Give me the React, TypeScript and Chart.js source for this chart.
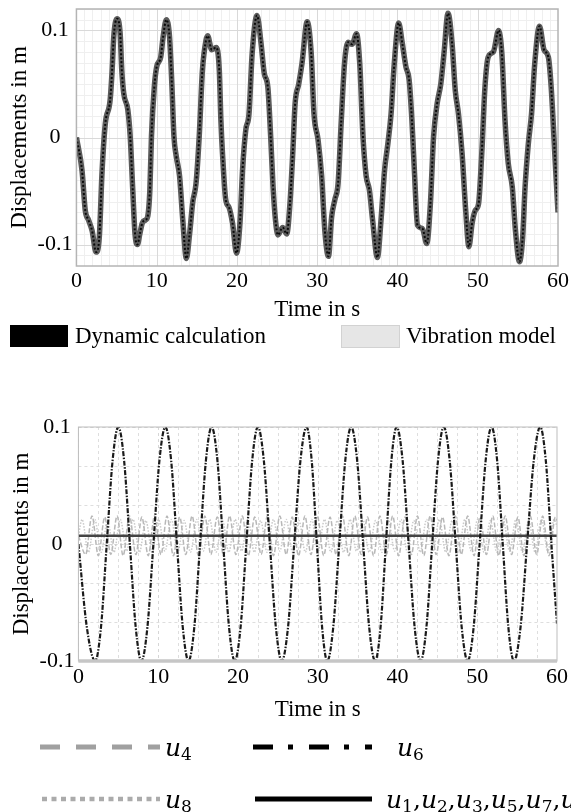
import React, { useEffect, useRef } from 'react';
import { Chart, registerables } from 'chart.js';

Chart.register(...registerables);

const SERIF = "'Liberation Serif', 'Times New Roman', serif";
const MATH = "'DejaVu Serif', 'Liberation Serif', serif";

// ---- ticks ----
const xTickValues = [0, 10, 20, 30, 40, 50, 60];
const yTickValues = [-0.1, 0, 0.1];

// ---- top chart: [time s, displacement m] ----
const dynamicCalculation: [number, number][] = [
  [0, 0], [0.7, -0.031], [1.1, -0.068], [1.5, -0.077], [1.95, -0.087], [2.45, -0.107], [2.85, -0.093],
  [3.2, -0.031], [3.6, 0.013], [4.2, 0.035], [4.45, 0.063], [4.65, 0.094], [5.05, 0.111], [5.45, 0.097],
  [5.65, 0.063], [5.9, 0.041], [6.4, 0.026], [6.7, 0.001], [7.0, -0.046], [7.3, -0.09], [7.6, -0.1],
  [7.9, -0.09], [8.2, -0.08], [8.6, -0.077], [8.9, -0.073], [9.15, -0.049], [9.35, 0.001], [9.7, 0.047],
  [10.0, 0.066], [10.5, 0.075], [10.8, 0.094], [11.2, 0.11], [11.6, 0.094], [11.9, 0.048], [12.15, 0.001],
  [12.45, -0.018], [12.85, -0.036], [13.25, -0.077], [13.7, -0.113], [14.1, -0.09], [14.5, -0.06],
  [14.9, -0.043], [15.3, 0.001], [15.7, 0.063], [16.15, 0.091], [16.35, 0.095], [16.85, 0.082],
  [17.4, 0.084], [17.8, 0.063], [18.0, 0.016], [18.2, -0.015], [18.6, -0.058], [19.0, -0.065],
  [19.45, -0.08], [19.95, -0.108], [20.4, -0.077], [20.7, -0.03], [21.1, 0.007], [21.5, 0.022],
  [21.9, 0.079], [22.5, 0.114], [23.0, 0.088], [23.4, 0.06], [23.85, 0.047], [24.2, 0.001],
  [24.5, -0.046], [24.8, -0.077], [25.1, -0.091], [25.7, -0.084], [26.2, -0.09], [26.6, -0.062],
  [26.95, -0.015], [27.25, 0.032], [27.7, 0.05], [28.1, 0.069], [28.75, 0.108], [29.25, 0.079],
  [29.6, 0.022], [30.1, -0.002], [30.55, -0.036], [30.95, -0.087], [31.4, -0.111], [31.8, -0.074],
  [32.2, -0.058], [32.6, -0.043], [33.0, 0.016], [33.4, 0.069], [33.85, 0.089], [34.35, 0.087],
  [34.9, 0.097], [35.3, 0.069], [35.7, 0.001], [36.1, -0.036], [36.5, -0.049], [36.9, -0.077],
  [37.5, -0.112], [37.95, -0.077], [38.4, -0.03], [38.8, -0.006], [39.2, 0.022], [39.6, 0.069],
  [40.15, 0.107], [40.6, 0.088], [41.05, 0.066], [41.45, 0.054], [41.8, 0.016], [42.1, -0.03],
  [42.5, -0.082], [43.1, -0.085], [43.65, -0.099], [44.1, -0.062], [44.5, 0.001], [44.95, 0.032],
  [45.4, 0.05], [45.8, 0.079], [46.3, 0.116], [46.8, 0.088], [47.2, 0.044], [47.6, 0.022],
  [48.05, -0.015], [48.5, -0.068], [48.9, -0.102], [49.3, -0.08], [49.7, -0.068], [50.1, -0.062],
  [50.5, -0.015], [50.9, 0.047], [51.3, 0.075], [51.95, 0.08], [52.6, 0.1], [53.0, 0.079],
  [53.4, 0.016], [53.8, -0.024], [54.3, -0.046], [54.7, -0.087], [55.2, -0.116], [55.6, -0.093],
  [55.9, -0.046], [56.3, -0.006], [56.7, 0.022], [57.1, 0.069], [57.7, 0.104], [58.25, 0.082],
  [58.8, 0.075], [59.15, 0.047], [59.6, -0.015], [60, -0.07],
];

const vibrationModel: [number, number][] = [
  [0, 0], [0.7, -0.031], [1.1, -0.068], [1.5, -0.077], [1.95, -0.087], [2.45, -0.107], [2.85, -0.093],
  [3.2, -0.031], [3.6, 0.013], [4.2, 0.035], [4.45, 0.063], [4.65, 0.094], [5.05, 0.111], [5.45, 0.097],
  [5.65, 0.063], [5.9, 0.041], [6.4, 0.026], [6.7, 0.001], [7.0, -0.046], [7.3, -0.09], [7.6, -0.1],
  [7.9, -0.09], [8.2, -0.08], [8.6, -0.077], [8.9, -0.073], [9.15, -0.049], [9.35, 0.001], [9.7, 0.047],
  [10.0, 0.066], [10.5, 0.075], [10.8, 0.094], [11.2, 0.11], [11.6, 0.094], [11.9, 0.048], [12.15, 0.001],
  [12.45, -0.018], [12.85, -0.036], [13.25, -0.077], [13.7, -0.113], [14.1, -0.09], [14.5, -0.06],
  [14.9, -0.043], [15.3, 0.001], [15.7, 0.063], [16.15, 0.091], [16.35, 0.095], [16.85, 0.082],
  [17.4, 0.084], [17.8, 0.063], [18.0, 0.016], [18.2, -0.015], [18.6, -0.058], [19.0, -0.065],
  [19.45, -0.08], [19.95, -0.108], [20.4, -0.077], [20.7, -0.03], [21.1, 0.007], [21.5, 0.022],
  [21.9, 0.079], [22.5, 0.114], [23.0, 0.088], [23.4, 0.06], [23.85, 0.047], [24.2, 0.001],
  [24.5, -0.046], [24.8, -0.077], [25.1, -0.091], [25.7, -0.084], [26.2, -0.09], [26.6, -0.062],
  [26.95, -0.015], [27.25, 0.032], [27.7, 0.05], [28.1, 0.069], [28.75, 0.108], [29.25, 0.079],
  [29.6, 0.022], [30.1, -0.002], [30.55, -0.036], [30.95, -0.087], [31.4, -0.111], [31.8, -0.074],
  [32.2, -0.058], [32.6, -0.043], [33.0, 0.016], [33.4, 0.069], [33.85, 0.089], [34.35, 0.087],
  [34.9, 0.097], [35.3, 0.069], [35.7, 0.001], [36.1, -0.036], [36.5, -0.049], [36.9, -0.077],
  [37.5, -0.112], [37.95, -0.077], [38.4, -0.03], [38.8, -0.006], [39.2, 0.022], [39.6, 0.069],
  [40.15, 0.107], [40.6, 0.088], [41.05, 0.066], [41.45, 0.054], [41.8, 0.016], [42.1, -0.03],
  [42.5, -0.082], [43.1, -0.085], [43.65, -0.099], [44.1, -0.062], [44.5, 0.001], [44.95, 0.032],
  [45.4, 0.05], [45.8, 0.079], [46.3, 0.116], [46.8, 0.088], [47.2, 0.044], [47.6, 0.022],
  [48.05, -0.015], [48.5, -0.068], [48.9, -0.102], [49.3, -0.08], [49.7, -0.068], [50.1, -0.062],
  [50.5, -0.015], [50.9, 0.047], [51.3, 0.075], [51.95, 0.08], [52.6, 0.1], [53.0, 0.079],
  [53.4, 0.016], [53.8, -0.024], [54.3, -0.046], [54.7, -0.087], [55.2, -0.116], [55.6, -0.093],
  [55.9, -0.046], [56.3, -0.006], [56.7, 0.022], [57.1, 0.069], [57.7, 0.104], [58.25, 0.082],
  [58.8, 0.075], [59.15, 0.047], [59.6, -0.015], [60, -0.07],
];

// ---- bottom chart: modal displacements ----
const u6: [number, number][] = [
  [0, 0], [1.05, -0.071], [2.1, -0.1], [2.83, -0.071], [3.55, 0], [4.28, 0.071], [5.0, 0.1],
  [5.73, 0.071], [6.45, 0], [7.18, -0.071], [7.9, -0.1], [8.65, -0.071], [9.4, 0], [10.15, 0.071],
  [10.9, 0.1], [11.63, 0.071], [12.35, 0], [13.08, -0.071], [13.8, -0.1], [14.53, -0.071], [15.25, 0],
  [15.98, 0.071], [16.7, 0.1], [17.43, 0.071], [18.15, 0], [18.88, -0.071], [19.6, -0.1], [20.33, -0.071],
  [21.05, 0], [21.78, 0.071], [22.5, 0.1], [23.25, 0.071], [24.0, 0], [24.75, -0.071], [25.5, -0.1],
  [26.28, -0.071], [27.05, 0], [27.83, 0.071], [28.6, 0.1], [29.25, 0.071], [29.9, 0], [30.55, -0.071],
  [31.2, -0.1], [31.95, -0.071], [32.7, 0], [33.45, 0.071], [34.2, 0.1], [34.95, 0.071], [35.7, 0],
  [36.45, -0.071], [37.2, -0.1], [37.88, -0.071], [38.55, 0], [39.23, 0.071], [39.9, 0.1], [40.65, 0.071],
  [41.4, 0], [42.15, -0.071], [42.9, -0.1], [43.63, -0.071], [44.35, 0], [45.08, 0.071], [45.8, 0.1],
  [46.55, 0.071], [47.3, 0], [48.05, -0.071], [48.8, -0.1], [49.55, -0.071], [50.3, 0], [51.05, 0.071],
  [51.8, 0.1], [52.5, 0.071], [53.2, 0], [53.9, -0.071], [54.6, -0.1], [55.43, -0.071], [56.25, 0],
  [57.08, 0.071], [57.9, 0.1], [58.6, 0.071], [59.3, 0], [60, -0.068],
];

const u4: [number, number][] = [
  [0, 0.007], [0.9, -0.009], [1.7, 0.024], [2.5, -0.01], [3.3, 0.023], [4.05, -0.009], [4.85, 0.024],
  [5.6, -0.01], [6.4, 0.024], [7.2, -0.009], [7.95, 0.023], [8.75, -0.01], [9.55, 0.024], [10.35, -0.009],
  [11.1, 0.024], [11.9, -0.01], [12.7, 0.023], [13.45, -0.009], [14.25, 0.024], [15.05, -0.01],
  [15.85, 0.024], [16.6, -0.009], [17.4, 0.023], [18.2, -0.01], [18.95, 0.024], [19.75, -0.009],
  [20.55, 0.024], [21.3, -0.01], [22.1, 0.023], [22.9, -0.009], [23.7, 0.024], [24.45, -0.01],
  [25.25, 0.024], [26.05, -0.009], [26.8, 0.023], [27.6, -0.01], [28.4, 0.024], [29.15, -0.009],
  [29.95, 0.024], [30.75, -0.01], [31.55, 0.023], [32.3, -0.009], [33.1, 0.024], [33.9, -0.01],
  [34.65, 0.024], [35.45, -0.009], [36.25, 0.023], [37.0, -0.01], [37.8, 0.024], [38.6, -0.009],
  [39.4, 0.024], [40.15, -0.01], [40.95, 0.023], [41.75, -0.009], [42.5, 0.024], [43.3, -0.01],
  [44.1, 0.024], [44.85, -0.009], [45.65, 0.023], [46.45, -0.01], [47.25, 0.024], [48.0, -0.009],
  [48.8, 0.024], [49.6, -0.01], [50.35, 0.023], [51.15, -0.009], [51.95, 0.024], [52.7, -0.01],
  [53.5, 0.024], [54.3, -0.009], [55.1, 0.023], [55.85, -0.01], [56.65, 0.024], [57.45, -0.009],
  [58.2, 0.024], [59.0, -0.01], [59.8, 0.023], [60, 0.02],
];

const u8: [number, number][] = [
  [0, 0.007], [0.45, 0.021], [1.25, -0.007], [2.05, 0.021], [2.85, -0.007], [3.65, 0.02], [4.45, -0.007],
  [5.25, 0.021], [6.05, -0.006], [6.85, 0.021], [7.65, -0.007], [8.45, 0.02], [9.25, -0.007], [10.05, 0.021],
  [10.85, -0.006], [11.65, 0.021], [12.45, -0.007], [13.25, 0.02], [14.05, -0.007], [14.85, 0.021],
  [15.65, -0.006], [16.45, 0.021], [17.25, -0.007], [18.05, 0.02], [18.85, -0.007], [19.65, 0.021],
  [20.45, -0.006], [21.25, 0.021], [22.05, -0.007], [22.85, 0.02], [23.65, -0.007], [24.45, 0.021],
  [25.25, -0.006], [26.05, 0.021], [26.85, -0.007], [27.65, 0.02], [28.45, -0.007], [29.25, 0.021],
  [30.05, -0.006], [30.85, 0.021], [31.65, -0.007], [32.45, 0.02], [33.25, -0.007], [34.05, 0.021],
  [34.85, -0.006], [35.65, 0.021], [36.45, -0.007], [37.25, 0.02], [38.05, -0.007], [38.85, 0.021],
  [39.65, -0.006], [40.45, 0.021], [41.25, -0.007], [42.05, 0.02], [42.85, -0.007], [43.65, 0.021],
  [44.45, -0.006], [45.25, 0.021], [46.05, -0.007], [46.85, 0.02], [47.65, -0.007], [48.45, 0.021],
  [49.25, -0.006], [50.05, 0.021], [50.85, -0.007], [51.65, 0.02], [52.45, -0.007], [53.25, 0.021],
  [54.05, -0.006], [54.85, 0.021], [55.65, -0.007], [56.45, 0.02], [57.25, -0.007], [58.05, 0.021],
  [58.85, -0.006], [59.65, 0.021], [60, 0.015],
];

const uOthers: [number, number][] = [[0, 0.007], [20, 0.007], [40, 0.007], [60, 0.007]];

const toXY = (pts: [number, number][]) => pts.map(([x, y]) => ({ x, y }));

type GridCfg = {
  xStep: number; yStep: number; minorColor: string; majorColor: string; dash: number[];
  frameColor: string; frameWidth: number; bottomColor?: string; bottomWidth?: number;
};

function gridPlugin(cfg: GridCfg) {
  return {
    id: 'paperGrid',
    beforeDatasetsDraw(chart: any) {
      const { ctx, chartArea: a, scales } = chart;
      const xs = scales.x;
      const ys = scales.y;
      ctx.save();
      ctx.beginPath();
      ctx.rect(a.left, a.top, a.right - a.left, a.bottom - a.top);
      ctx.clip();
      ctx.lineWidth = 1;
      ctx.setLineDash(cfg.dash);
      ctx.strokeStyle = cfg.minorColor;
      ctx.beginPath();
      for (let v = xs.min; v <= xs.max + 1e-9; v += cfg.xStep) {
        const p = Math.round(xs.getPixelForValue(v)) + 0.5;
        ctx.moveTo(p, a.top);
        ctx.lineTo(p, a.bottom);
      }
      for (let v = ys.min; v <= ys.max + 1e-9; v += cfg.yStep) {
        const p = Math.round(ys.getPixelForValue(v)) + 0.5;
        ctx.moveTo(a.left, p);
        ctx.lineTo(a.right, p);
      }
      ctx.stroke();
      ctx.strokeStyle = cfg.majorColor;
      ctx.beginPath();
      xs.ticks.forEach((t: any) => {
        const p = Math.round(xs.getPixelForValue(t.value)) + 0.5;
        ctx.moveTo(p, a.top);
        ctx.lineTo(p, a.bottom);
      });
      ys.ticks.forEach((t: any) => {
        const p = Math.round(ys.getPixelForValue(t.value)) + 0.5;
        ctx.moveTo(a.left, p);
        ctx.lineTo(a.right, p);
      });
      ctx.stroke();
      ctx.restore();
    },
    afterDatasetsDraw(chart: any) {
      const { ctx, chartArea: a } = chart;
      ctx.save();
      ctx.strokeStyle = cfg.frameColor;
      ctx.lineWidth = cfg.frameWidth;
      ctx.strokeRect(a.left, a.top, a.right - a.left, a.bottom - a.top);
      if (cfg.bottomWidth) {
        ctx.strokeStyle = cfg.bottomColor;
        ctx.lineWidth = cfg.bottomWidth;
        ctx.beginPath();
        ctx.moveTo(a.left, a.bottom);
        ctx.lineTo(a.right, a.bottom);
        ctx.stroke();
      }
      ctx.restore();
    },
  };
}

function axes(yMin: number, yMax: number, xPad: number, xTitlePad: number) {
  return {
    x: {
      type: 'linear',
      min: 0,
      max: 60,
      afterBuildTicks: (s: any) => { s.ticks = xTickValues.map((v) => ({ value: v })); },
      ticks: {
        autoSkip: false, maxRotation: 0, padding: xPad, color: '#000',
        font: { family: SERIF, size: 22 },
        callback: (v: any) => String(v),
      },
      grid: { display: false, drawTicks: false },
      border: { display: false },
      title: {
        display: true, text: 'Time in s', color: '#000',
        font: { family: SERIF, size: 23 }, padding: { top: xTitlePad, bottom: 0 },
      },
    },
    y: {
      type: 'linear',
      min: yMin,
      max: yMax,
      afterBuildTicks: (s: any) => { s.ticks = yTickValues.map((v) => ({ value: v })); },
      ticks: {
        padding: 4, color: '#000', crossAlign: 'center',
        font: { family: SERIF, size: 22, lineHeight: 0.4 },
        callback: (v: any) => String(Math.round(v * 10) / 10),
      },
      grid: { display: false, drawTicks: false },
      border: { display: false },
      title: {
        display: true, text: 'Displacements in m', color: '#000',
        font: { family: SERIF, size: 23 }, padding: { top: 0, bottom: 0 },
      },
    },
  };
}

function TopChart() {
  const ref = useRef<HTMLCanvasElement>(null);
  useEffect(() => {
    const chart = new Chart(ref.current!, {
      type: 'line',
      data: {
        datasets: [
          {
            label: 'Dynamic calculation', data: toXY(dynamicCalculation),
            borderColor: '#0a0a0a', borderWidth: 2, borderDash: [2, 2],
            pointRadius: 0, cubicInterpolationMode: 'monotone', fill: false,
          },
          {
            label: 'Vibration model', data: toXY(vibrationModel),
            borderColor: '#5c5c5c', borderWidth: 5.5,
            pointRadius: 0, cubicInterpolationMode: 'monotone', fill: false,
          },
        ],
      },
      options: {
        responsive: false, animation: false, events: [],
        layout: { padding: { top: 9, left: 6, right: 10, bottom: 0 } },
        plugins: { legend: { display: false }, tooltip: { enabled: false } },
        scales: axes(-0.12, 0.12, 2, 0) as any,
      },
      plugins: [gridPlugin({
        xStep: 1, yStep: 0.01, minorColor: '#efefef', majorColor: '#d9d9d9', dash: [],
        frameColor: '#b4b4b4', frameWidth: 1.5,
      })],
    } as any);
    return () => chart.destroy();
  }, []);
  return <canvas ref={ref} width={571} height={324} style={{ position: 'absolute', left: 0, top: 0 }} />;
}

function BottomChart() {
  const ref = useRef<HTMLCanvasElement>(null);
  useEffect(() => {
    const chart = new Chart(ref.current!, {
      type: 'line',
      data: {
        datasets: [
          {
            label: 'u6', data: toXY(u6), borderColor: '#1a1a1a', borderWidth: 2.2,
            borderDash: [5, 1.5, 1.5, 1.5], pointRadius: 0, cubicInterpolationMode: 'monotone', fill: false,
          },
          {
            label: 'u1,u2,u3,u5,u7,u9', data: toXY(uOthers), borderColor: '#444', borderWidth: 2.5,
            pointRadius: 0, fill: false,
          },
          {
            label: 'u4', data: toXY(u4), borderColor: '#b8b8b8', borderWidth: 1.5,
            borderDash: [5, 2], pointRadius: 0, cubicInterpolationMode: 'monotone', fill: false,
          },
          {
            label: 'u8', data: toXY(u8), borderColor: '#cacaca', borderWidth: 1.5,
            borderDash: [1.5, 1.5], pointRadius: 0, cubicInterpolationMode: 'monotone', fill: false,
          },
        ],
      },
      options: {
        responsive: false, animation: false, events: [],
        layout: { padding: { top: 67, left: 8, right: 9, bottom: 0 } },
        plugins: { legend: { display: false }, tooltip: { enabled: false } },
        scales: axes(-0.1, 0.1, 3, 3) as any,
      },
      plugins: [gridPlugin({
        xStep: 2.5, yStep: 0.1 / 3, minorColor: '#dedede', majorColor: '#d6d6d6', dash: [3, 3],
        frameColor: '#bdbdbd', frameWidth: 1, bottomColor: '#c6c6c6', bottomWidth: 3.5,
      })],
    } as any);
    return () => chart.destroy();
  }, []);
  return <canvas ref={ref} width={571} height={364} style={{ position: 'absolute', left: 0, top: 360 }} />;
}

const textStyle: React.CSSProperties = {
  position: 'absolute', fontFamily: SERIF, fontSize: 23, lineHeight: '26px', color: '#000', whiteSpace: 'nowrap',
};

function U({ n }: { n: string }) {
  return (
    <span>
      <span style={{ fontStyle: 'italic' }}>u</span>
      <sub style={{ fontSize: '0.68em', verticalAlign: '-0.25em' }}>{n}</sub>
    </span>
  );
}

export default function App() {
  const mathStyle: React.CSSProperties = {
    position: 'absolute', fontFamily: MATH, fontSize: 25, lineHeight: '28px', color: '#000', whiteSpace: 'nowrap',
  };
  return (
    <div style={{ position: 'fixed', left: 0, top: 0, width: 571, height: 812, overflow: 'hidden', background: '#fff' }}>
      <TopChart />
      {/* top legend */}
      <div style={{ position: 'absolute', left: 10, top: 325, width: 58, height: 22, background: '#000' }} />
      <div style={{ ...textStyle, left: 75, top: 323 }}>Dynamic calculation</div>
      <div style={{ position: 'absolute', left: 341, top: 325, width: 57, height: 21, background: '#e6e6e6', border: '1px solid #d2d2d2' }} />
      <div style={{ ...textStyle, left: 406, top: 323 }}>Vibration model</div>

      <BottomChart />
      {/* bottom legend */}
      <svg width={571} height={90} style={{ position: 'absolute', left: 0, top: 722 }}>
        <line x1={40} y1={25} x2={160} y2={25} stroke="#a0a0a0" strokeWidth={5} strokeDasharray="20 16" />
        <line x1={253} y1={25} x2={372} y2={25} stroke="#000" strokeWidth={5} strokeDasharray="20 15 5 16" />
        <line x1={42} y1={77} x2={160} y2={77} stroke="#ababab" strokeWidth={4.5} strokeDasharray="5 4.5" />
        <line x1={255} y1={77} x2={372} y2={77} stroke="#000" strokeWidth={5} />
      </svg>
      <div style={{ ...mathStyle, left: 165, top: 734 }}><U n="4" /></div>
      <div style={{ ...mathStyle, left: 397, top: 734 }}><U n="6" /></div>
      <div style={{ ...mathStyle, left: 165, top: 786 }}><U n="8" /></div>
      <div style={{ ...mathStyle, left: 386, top: 786 }}>
        <U n="1" />,<U n="2" />,<U n="3" />,<U n="5" />,<U n="7" />,<U n="9" />
      </div>
    </div>
  );
}
